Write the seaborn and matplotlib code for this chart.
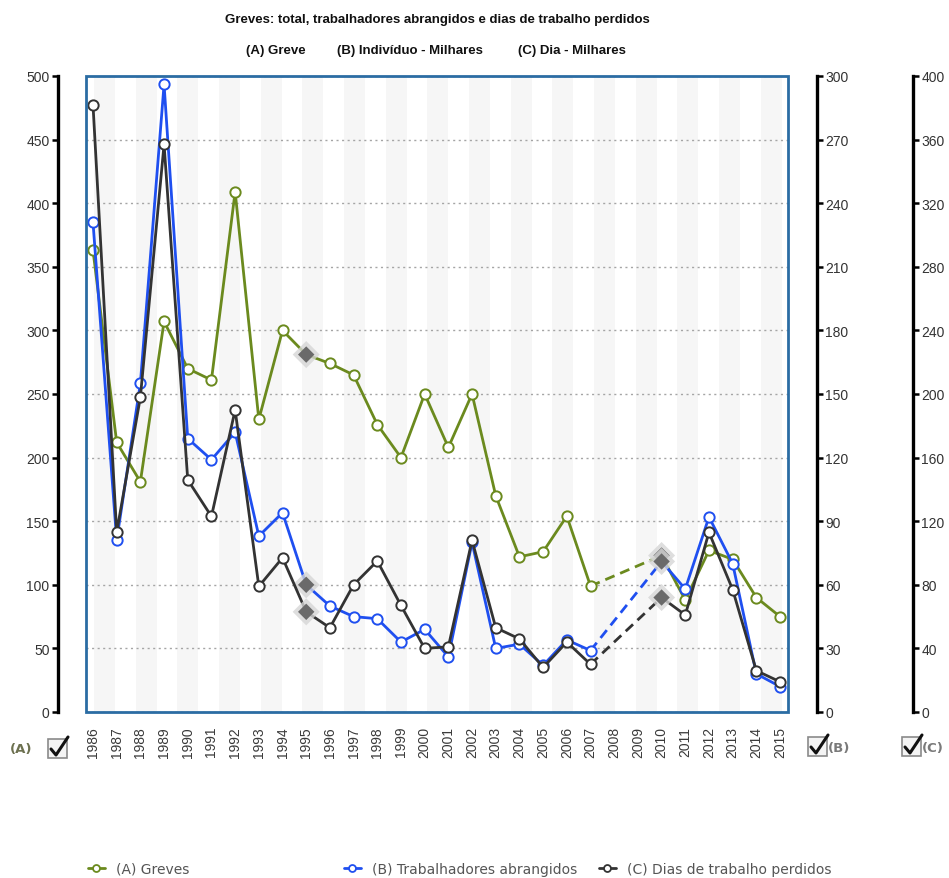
import numpy as np
import pandas as pd
import matplotlib
matplotlib.use("Agg")
import matplotlib.pyplot as plt
import seaborn as sns
from matplotlib.patches import Rectangle
from matplotlib.lines import Line2D

# ---- data -------------------------------------------------------------
anos = list(range(1986, 2016))
# (A) number of strikes
greves = [363, 212, 181, 307, 270, 261, 409, 230, 300, 281, 274, 265, 226, 200,
          250, 208, 250, 170, 122, 126, 154, 99, None, None, 123, 88, 127, 120,
          90, 75]
# (B) workers involved, thousands
trabalhadores = [231, 81, 155, 296, 129, 119, 132, 83, 94, 60, 50, 45, 44, 33,
                 39, 26, 80, 30, 32, 22, 34, 29, None, None, 71, 58, 92, 70,
                 18, 12]
# (C) working days lost, thousands
dias = [382, 113, 198, 357, 146, 123, 190, 79, 97, 63, 53, 80, 95, 67, 40, 41,
        108, 53, 46, 28, 44, 30, None, None, 72, 61, 113, 77, 26, 19]
anos_destaque = [1995, 2010]

titulo = "Greves: total, trabalhadores abrangidos e dias de trabalho perdidos"
subtitulos = ["(A) Greve", "(B) Indivíduo - Milhares", "(C) Dia - Milhares"]
legendas = ["(A) Greves", "(B) Trabalhadores abrangidos",
            "(C) Dias de trabalho perdidos"]
escala_a = list(range(0, 501, 50))
escala_b = list(range(0, 301, 30))
escala_c = list(range(0, 401, 40))

# ---- styling ----------------------------------------------------------
sns.set_theme(style="white")
plt.rcParams["font.family"] = ["Liberation Sans", "DejaVu Sans"]

COR_A = "#6b8a1e"
COR_B = "#1f4ff0"
COR_C = "#333333"
MOLDURA = "#2b6ca3"

W, H = 949, 879


def fx(x):
    return x / W


def fy(y):
    return 1 - y / H


fig = plt.figure(figsize=(W / 100, H / 100), dpi=100)
fig.patch.set_facecolor("white")

ax = fig.add_axes([fx(86), fy(713), 702 / W, 636 / H])
axB = ax.twinx()
axC = ax.twinx()
for a in (axB, axC):
    a.patch.set_visible(False)

# alternating background bands
for k in range(17):
    ax.add_patch(Rectangle(((8 + k * 41.67) / 702, 0), 21 / 702, 1,
                           transform=ax.transAxes, facecolor="#f6f6f6",
                           edgecolor="none", zorder=0))

df = pd.DataFrame({"ano": anos,
                   "A": pd.array(greves, dtype="Float64"),
                   "B": pd.array(trabalhadores, dtype="Float64"),
                   "C": pd.array(dias, dtype="Float64")}).astype(
    {"A": float, "B": float, "C": float})


def desenhar(a, col, cor):
    d = df[["ano", col]].dropna().reset_index(drop=True)
    # split into runs of consecutive years
    quebra = (d["ano"].diff() != 1).cumsum()
    grupos = [g for _, g in d.groupby(quebra)]
    for g in grupos:
        sns.lineplot(data=g, x="ano", y=col, ax=a, color=cor, lw=2.0,
                     estimator=None, sort=False, legend=False, zorder=2)
    for g1, g2 in zip(grupos[:-1], grupos[1:]):
        ponte = pd.concat([g1.tail(1), g2.head(1)])
        sns.lineplot(data=ponte, x="ano", y=col, ax=a, color=cor, lw=2.0,
                     linestyle=(0, (3.6, 2.2)), estimator=None, sort=False,
                     legend=False, zorder=2)
    normais = d[~d["ano"].isin(anos_destaque)]
    destaque = d[d["ano"].isin(anos_destaque)]
    sns.scatterplot(data=normais, x="ano", y=col, ax=a, marker="o", s=55,
                    color="white", edgecolor=cor, linewidth=1.4, zorder=3,
                    legend=False)
    sns.scatterplot(data=destaque, x="ano", y=col, ax=a, marker="D", s=190,
                    color="#d6d6d6", edgecolor="none", linewidth=0, alpha=0.8,
                    zorder=3, legend=False)
    sns.scatterplot(data=destaque, x="ano", y=col, ax=a, marker="D", s=70,
                    color="#6a6a6a", edgecolor="none", linewidth=0, zorder=4,
                    legend=False)
    a.set_xlabel("")
    a.set_ylabel("")


desenhar(ax, "A", COR_A)
desenhar(axB, "B", COR_B)
desenhar(axC, "C", COR_C)

ax.set_xlim(1985.705, 2015.336)
ax.set_ylim(0, 500)
axB.set_ylim(0, 300)
axC.set_ylim(0, 400)

# grid
ax.set_yticks(escala_a)
ax.grid(axis="y", color="#a5a5a5", linestyle=(0, (1.5, 2.5)), lw=1.0)
ax.grid(axis="x", visible=False)
axB.grid(False)
axC.grid(False)
ax.set_axisbelow(True)

# x axis
ax.set_xticks(anos)
ax.set_xticklabels([str(a) for a in anos], rotation=90, fontsize=10,
                   color="#3a3a3a")
ax.tick_params(axis="x", length=0, pad=10)

# left scale (A)
for s in ("top", "right", "bottom"):
    ax.spines[s].set_visible(False)
ax.spines["left"].set_position(("outward", 20.2))
ax.spines["left"].set_color("black")
ax.spines["left"].set_linewidth(2.4)
ax.tick_params(axis="y", direction="out", length=4.5, width=1.8,
               color="black", labelsize=10, labelcolor="#333333", pad=1.5,
               left=True)

# right scales (B) and (C)
for a, ticks, desl in ((axB, escala_b, 20.9), (axC, escala_c, 90.0)):
    for s in ("top", "left", "bottom"):
        a.spines[s].set_visible(False)
    a.spines["right"].set_visible(True)
    a.spines["right"].set_position(("outward", desl))
    a.spines["right"].set_color("black")
    a.spines["right"].set_linewidth(2.4)
    a.set_yticks(ticks)
    a.tick_params(axis="y", direction="out", length=4.5, width=1.8,
                  color="black", labelsize=10, labelcolor="#333333", pad=1.5,
                  right=True)

# plot frame
axC.add_patch(Rectangle((0, 0), 1, 1, transform=ax.transAxes, fill=False,
                        edgecolor=MOLDURA, lw=2.0, zorder=10, clip_on=False))

# titles
fig.text(fx(437), fy(20), titulo, ha="center", va="center", fontsize=9.5,
         fontweight="bold", color="#111111")
for txt, cx in zip(subtitulos, (276, 410, 572)):
    fig.text(fx(cx), fy(51), txt, ha="center", va="center", fontsize=9.5,
             fontweight="bold", color="#111111")


# checkboxes
def caixa(x0, y0, lado=19):
    fig.add_artist(Rectangle((fx(x0), fy(y0 + lado)), lado / W, lado / H,
                             transform=fig.transFigure, facecolor="#f4f4f4",
                             edgecolor="#8a8a8a", lw=1.2))
    xs = [x0 + 3, x0 + 8, x0 + lado + 1]
    ys = [y0 + 10, y0 + lado - 3, y0 - 2]
    fig.add_artist(Line2D([fx(v) for v in xs], [fy(v) for v in ys],
                          transform=fig.transFigure, color="#111111",
                          lw=2.2, solid_capstyle="round",
                          solid_joinstyle="round"))


caixa(48, 740)
caixa(808, 738)
caixa(902, 738)
fig.text(fx(10), fy(750), "(A)", ha="left", va="center", fontsize=9.5,
         fontweight="bold", color="#6d7150", family="DejaVu Sans")
fig.text(fx(828), fy(749), "(B)", ha="left", va="center", fontsize=9.5,
         fontweight="bold", color="#7a7a7a", family="DejaVu Sans")
fig.text(fx(922), fy(749), "(C)", ha="left", va="center", fontsize=9.5,
         fontweight="bold", color="#7a7a7a", family="DejaVu Sans")

# legend
for lab, cor, x in zip(legendas, (COR_A, COR_B, COR_C), (88, 344, 599)):
    h = Line2D([0], [0], color=cor, lw=2, marker="o", markersize=5,
               markerfacecolor="white", markeredgecolor=cor,
               markeredgewidth=1.3)
    fig.legend(handles=[h], labels=[lab], loc="center left",
               bbox_to_anchor=(fx(x), fy(870)), frameon=False,
               handlelength=1.2, handletextpad=0.8, borderpad=0,
               borderaxespad=0,
               prop={"family": "DejaVu Sans", "size": 10},
               labelcolor="#555555")

fig.savefig("out.png", dpi=100, facecolor="white")
